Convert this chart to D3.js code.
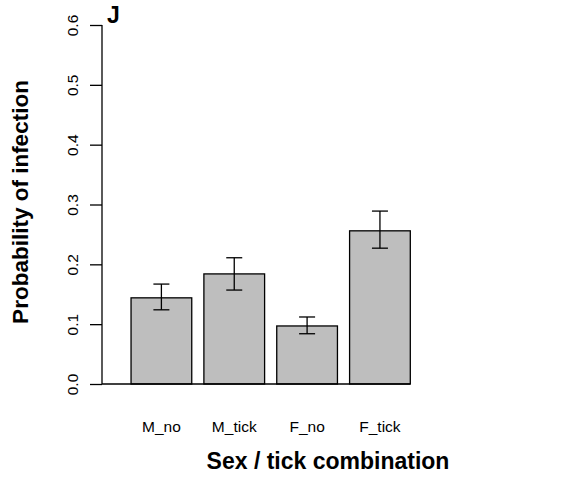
<!DOCTYPE html>
<html>
<head>
<meta charset="utf-8">
<script src="https://cdn.jsdelivr.net/npm/d3@7"></script>
<style>
  body { margin: 0; background: #fff; }
  text { font-family: "Liberation Sans", Arial, sans-serif; fill: #000; }
</style>
</head>
<body>
<div id="chart"></div>
<script>
// data
let categories = ['M_no', 'M_tick', 'F_no', 'F_tick'];
let means = [0.144, 0.184, 0.097, 0.256];
let lower = [0.124, 0.157, 0.084, 0.227];
let upper = [0.167, 0.211, 0.112, 0.289];
let yTicks = [0, 0.1, 0.2, 0.3, 0.4, 0.5, 0.6];

let w = 563, h = 488;

let svg = d3.select('#chart').append('svg')
  .attr('width', w)
  .attr('height', h);

// barplot style positions: width 1, space 0.2
let x = d3.scaleLinear().domain([0, 4.8]).range([118.9, 410.3]);
let y = d3.scaleLinear().domain([0, 0.6]).range([384, 25]);
let axisX = 102;

// bars
svg.selectAll('rect.bar')
  .data(means)
  .enter()
  .append('rect')
  .attr('class', 'bar')
  .attr('x', (d, i) => x(0.2 + 1.2 * i))
  .attr('width', x(1) - x(0))
  .attr('y', d => y(d))
  .attr('height', d => y(0) - y(d))
  .style('fill', '#bebebe')
  .style('stroke', '#000')
  .style('stroke-width', 1.3);

// baseline
svg.append('line')
  .attr('x1', axisX).attr('x2', x(4.8))
  .attr('y1', y(0)).attr('y2', y(0))
  .style('stroke', '#000').style('stroke-width', 1.3);

// error bars
let cap = 8;
let errs = svg.append('g').selectAll('g')
  .data(means)
  .enter()
  .append('g');
errs.append('line')
  .attr('x1', (d, i) => x(0.7 + 1.2 * i)).attr('x2', (d, i) => x(0.7 + 1.2 * i))
  .attr('y1', (d, i) => y(lower[i])).attr('y2', (d, i) => y(upper[i]));
errs.append('line')
  .attr('x1', (d, i) => x(0.7 + 1.2 * i) - cap).attr('x2', (d, i) => x(0.7 + 1.2 * i) + cap)
  .attr('y1', (d, i) => y(upper[i])).attr('y2', (d, i) => y(upper[i]));
errs.append('line')
  .attr('x1', (d, i) => x(0.7 + 1.2 * i) - cap).attr('x2', (d, i) => x(0.7 + 1.2 * i) + cap)
  .attr('y1', (d, i) => y(lower[i])).attr('y2', (d, i) => y(lower[i]));
errs.selectAll('line').style('stroke', '#000').style('stroke-width', 1.3);

// y axis
let yAxis = d3.axisLeft(y).tickValues(yTicks).tickSize(12).tickPadding(6)
  .tickFormat(d3.format('.1f'));
let gy = svg.append('g')
  .attr('transform', 'translate(' + axisX + ',0)')
  .call(yAxis);
gy.select('.domain').attr('d', 'M0,' + y(0.6) + 'V' + y(0))
  .style('stroke-width', 1.3);
gy.selectAll('.tick line').style('stroke-width', 1.3);
gy.selectAll('.tick text')
  .attr('x', null).attr('dy', null)
  .attr('transform', 'translate(-24.5,0) rotate(-90)')
  .attr('text-anchor', 'middle')
  .attr('dominant-baseline', 'auto')
  .style('font-family', '"Liberation Sans", Arial, sans-serif')
  .style('font-size', '15.5px');

// category labels
svg.selectAll('text.cat')
  .data(categories)
  .enter()
  .append('text')
  .attr('class', 'cat')
  .attr('x', (d, i) => x(0.7 + 1.2 * i))
  .attr('y', 432)
  .attr('text-anchor', 'middle')
  .style('font-size', '15.5px')
  .text(d => d);

// titles
svg.append('text')
  .attr('x', 328).attr('y', 469)
  .attr('text-anchor', 'middle')
  .style('font-size', '23px').style('font-weight', 'bold')
  .text('Sex / tick combination');

svg.append('text')
  .attr('transform', 'translate(28,202) rotate(-90)')
  .attr('text-anchor', 'middle')
  .style('font-size', '22.5px').style('font-weight', 'bold')
  .text('Probability of infection');

svg.append('text')
  .attr('x', 107).attr('y', 23)
  .style('font-size', '23px').style('font-weight', 'bold')
  .text('J');
</script>
</body>
</html>
